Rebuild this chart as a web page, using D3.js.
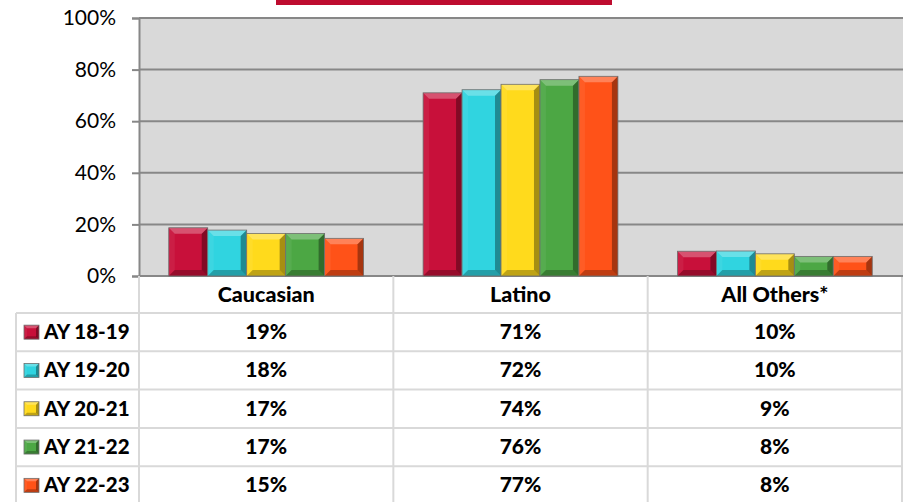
<!DOCTYPE html>
<html>
<head>
<meta charset="utf-8">
<script src="https://cdn.jsdelivr.net/npm/d3@7"></script>
<style>
  body { margin: 0; background: #fff; }
  svg { display: block; font-family: Lato, "Open Sans", sans-serif; }
</style>
</head>
<body>
<div id="chart"></div>
<script>
// data
var categories = ["Caucasian", "Latino", "All Others*"];
var seriesNames = ["AY 18-19", "AY 19-20", "AY 20-21", "AY 21-22", "AY 22-23"];
var seriesColors = ["#C8103A", "#30D4E0", "#FFDA1C", "#4CA744", "#FF5218"];
// values per series, in category order (percent)
var ay1819 = [18.7, 71.0, 9.6];
var ay1920 = [17.8, 72.2, 9.7];
var ay2021 = [16.5, 74.3, 8.6];
var ay2122 = [16.5, 76.1, 7.6];
var ay2223 = [14.6, 77.4, 7.6];
var tableLabels = [
    ["19%", "71%", "10%"],
    ["18%", "72%", "10%"],
    ["17%", "74%", "9%"],
    ["17%", "76%", "8%"],
    ["15%", "77%", "8%"]
];
var yTicks = [0, 20, 40, 60, 80, 100];

var seriesValues = [ay1819, ay1920, ay2021, ay2122, ay2223];

var W = 903, H = 502;
var plot = {left: 139, right: 902, top: 18, bottom: 276};
var table = {left: 16, headerBottom: 313, rowH: 38.3};

var svg = d3.select("#chart").append("svg")
    .attr("width", W).attr("height", H);

// red title strip at top
svg.append("rect").attr("x", 276).attr("y", 0).attr("width", 336).attr("height", 5)
    .attr("fill", "#BE0C2F");

var x0 = d3.scaleBand().domain(categories).range([plot.left, plot.right]).padding(0);
var groupPad = x0.bandwidth() * 0.117;
var x1 = d3.scaleBand().domain(seriesNames).range([groupPad, x0.bandwidth() - groupPad]).padding(0);
var y = d3.scaleLinear().domain([0, 100]).range([plot.bottom, plot.top]);

// plot background
svg.append("rect")
    .attr("x", plot.left).attr("y", plot.top)
    .attr("width", plot.right - plot.left + 1).attr("height", plot.bottom - plot.top)
    .attr("fill", "#D9D9D9");

// gridlines + y axis
var yAxis = d3.axisLeft(y).tickValues(yTicks).tickSize(7).tickPadding(16)
    .tickFormat(function (d) { return d + "%"; });
var yg = svg.append("g").attr("transform", "translate(" + plot.left + ",0)").call(yAxis);
yg.select(".domain").attr("stroke", "#878787").attr("stroke-width", 2);
yg.selectAll(".tick line").attr("stroke", "#878787").attr("stroke-width", 2);
yg.selectAll(".tick text").attr("font-size", 21).attr("fill", "#000")
    .attr("font-family", "Lato, sans-serif");

svg.append("g").selectAll("line").data(yTicks).enter().append("line")
    .attr("x1", plot.left).attr("x2", W)
    .attr("y1", function (d) { return y(d); }).attr("y2", function (d) { return y(d); })
    .attr("stroke", "#878787").attr("stroke-width", 2);

// bevelled box, like the office 3D bevel
function bevelBox(g, x, yy, w, h, color, b) {
    b = Math.min(b, w / 2, h / 2);
    g.append("rect").attr("x", x).attr("y", yy).attr("width", w).attr("height", h)
        .attr("fill", color);
    var faces = [
        {pts: [[x, yy], [x + w, yy], [x + w - b, yy + b], [x + b, yy + b]], fill: "#fff", op: 0.28},
        {pts: [[x, yy], [x + b, yy + b], [x + b, yy + h - b], [x, yy + h]], fill: "#fff", op: 0.06},
        {pts: [[x + w, yy], [x + w, yy + h], [x + w - b, yy + h - b], [x + w - b, yy + b]], fill: "#000", op: 0.35},
        {pts: [[x, yy + h], [x + w, yy + h], [x + w - b, yy + h - b], [x + b, yy + h - b]], fill: "#000", op: 0.25}
    ];
    faces.forEach(function (f) {
        g.append("polygon").attr("points", f.pts.map(function (p) { return p.join(","); }).join(" "))
            .attr("fill", f.fill).attr("fill-opacity", f.op);
    });
    g.append("rect").attr("x", x).attr("y", yy).attr("width", w).attr("height", h)
        .attr("fill", "none").attr("stroke", "#6f6f6f").attr("stroke-width", 0.8);
}

// bars
var bars = svg.append("g");
seriesValues.forEach(function (vals, si) {
    vals.forEach(function (v, ci) {
        var bx = x0(categories[ci]) + x1(seriesNames[si]);
        bevelBox(bars, bx, y(v), x1.bandwidth(), y(0) - y(v), seriesColors[si], 6);
    });
});

// data table
var tbl = svg.append("g");
var nRows = seriesNames.length;
var tableBottom = table.headerBottom + nRows * table.rowH;
tbl.append("rect").attr("x", plot.left).attr("y", plot.bottom + 1)
    .attr("width", W - plot.left).attr("height", H - plot.bottom).attr("fill", "#fff");

var lineColor = "#D9D9D9";
// vertical lines
categories.forEach(function (c) {
    tbl.append("line").attr("x1", x0(c)).attr("x2", x0(c))
        .attr("y1", plot.bottom).attr("y2", tableBottom + 2)
        .attr("stroke", lineColor).attr("stroke-width", 2);
});
tbl.append("line").attr("x1", plot.right).attr("x2", plot.right)
    .attr("y1", plot.bottom + 1).attr("y2", tableBottom + 2)
    .attr("stroke", lineColor).attr("stroke-width", 2);
tbl.append("line").attr("x1", table.left).attr("x2", table.left)
    .attr("y1", table.headerBottom).attr("y2", tableBottom + 2)
    .attr("stroke", lineColor).attr("stroke-width", 2);
// horizontal lines
d3.range(nRows + 1).forEach(function (i) {
    var ly = table.headerBottom + i * table.rowH;
    tbl.append("line").attr("x1", table.left).attr("x2", plot.right)
        .attr("y1", ly).attr("y2", ly)
        .attr("stroke", lineColor).attr("stroke-width", 2);
});

// header
tbl.selectAll("text.head").data(categories).enter().append("text")
    .attr("class", "head")
    .attr("x", function (d) { return x0(d) + x0.bandwidth() / 2; })
    .attr("y", 302)
    .attr("text-anchor", "middle")
    .attr("font-size", 21.5).attr("font-weight", "900")
    .text(function (d) { return d; });

// rows
seriesNames.forEach(function (name, si) {
    var cy = table.headerBottom + si * table.rowH + table.rowH / 2;
    bevelBox(tbl, 24, cy - 7, 15, 14, seriesColors[si], 3);
    tbl.append("text").attr("x", 44).attr("y", cy + 7)
        .attr("font-size", 20.5).attr("font-weight", "900")
        .text(name);
    categories.forEach(function (c, ci) {
        tbl.append("text")
            .attr("x", x0(c) + x0.bandwidth() / 2).attr("y", cy + 7)
            .attr("text-anchor", "middle")
            .attr("font-size", 21).attr("font-weight", "900")
            .text(tableLabels[si][ci]);
    });
});
</script>
</body>
</html>
